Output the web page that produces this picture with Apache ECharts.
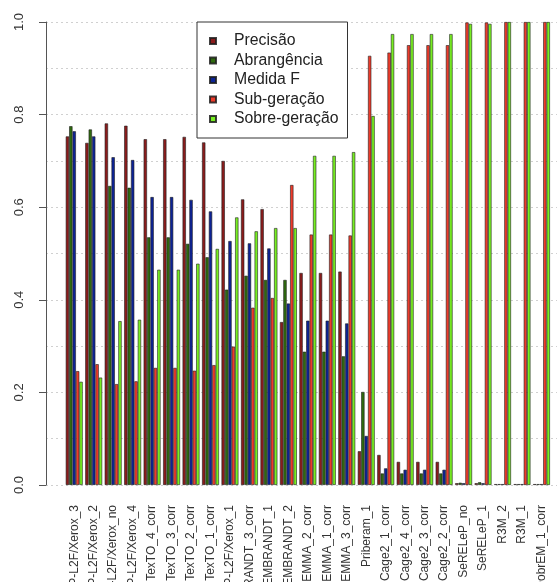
<!DOCTYPE html>
<html>
<head>
<meta charset="utf-8">
<script src="https://cdn.jsdelivr.net/npm/echarts@6/dist/echarts.min.js"></script>
<style>
html,body{margin:0;padding:0;background:#fff;}
#chart{width:559px;height:582px;}
</style>
</head>
<body>
<div id="chart"></div>
<script>
var categories = ['XIP-L2F/Xerox_3','XIP-L2F/Xerox_2','XIP-L2F/Xerox_no','XIP-L2F/Xerox_4','TexTO_4_corr','TexTO_3_corr','TexTO_2_corr','TexTO_1_corr','XIP-L2F/Xerox_1','REMBRANDT_3_corr','REMBRANDT_1','REMBRANDT_2','REMMA_2_corr','REMMA_1_corr','REMMA_3_corr','Priberam_1','Cage2_1_corr','Cage2_4_corr','Cage2_3_corr','Cage2_2_corr','SeRELeP_no','SeRELeP_1','R3M_2','R3M_1','DobrEM_1_corr'];
var seriesNames = ['Precisão','Abrangência','Medida F','Sub-geração','Sobre-geração'];
var precisao    = [0.753,0.739,0.781,0.776,0.747,0.747,0.752,0.740,0.700,0.617,0.596,0.352,0.458,0.458,0.461,0.073,0.065,0.050,0.050,0.050,0.004,0.004,0.002,0.002,0.002];
var abrangencia = [0.775,0.768,0.646,0.642,0.535,0.535,0.521,0.492,0.422,0.452,0.443,0.443,0.288,0.288,0.278,0.201,0.025,0.025,0.025,0.025,0.005,0.006,0.002,0.002,0.002];
var medidaF     = [0.764,0.753,0.708,0.702,0.622,0.622,0.616,0.591,0.527,0.522,0.511,0.392,0.355,0.355,0.349,0.106,0.036,0.033,0.033,0.033,0.004,0.004,0.002,0.002,0.002];
var subGeracao  = [0.246,0.261,0.218,0.224,0.253,0.253,0.247,0.259,0.299,0.383,0.404,0.648,0.541,0.541,0.539,0.927,0.934,0.950,0.950,0.950,0.999,0.999,1.000,1.000,1.000];
var sobreGeracao= [0.223,0.232,0.354,0.357,0.465,0.465,0.478,0.510,0.578,0.548,0.555,0.555,0.711,0.711,0.719,0.797,0.974,0.974,0.974,0.974,0.996,0.996,1.000,1.000,1.000];
var yTicks = [0, 0.2, 0.4, 0.6, 0.8, 1.0];
var colors = ['#8B1C1C','#2F6A0E','#0D2396','#EE3B2B','#77EE22'];

var font = 'Liberation Sans, Arial, sans-serif';
var allData = [precisao, abrangencia, medidaF, subGeracao, sobreGeracao];

var chart = echarts.init(document.getElementById('chart'), null, {renderer:'canvas'});
var series = seriesNames.map(function(n, i){
  return {
    name: n, type: 'bar', xAxisIndex: 1, yAxisIndex: 1,
    data: allData[i],
    barGap: '0%', barCategoryGap: '12.7%',
    itemStyle: {color: colors[i], borderColor: 'rgba(30,30,30,0.85)', borderWidth: 0.7},
    emphasis: {disabled: true},
    animation: false
  };
});
series.push({type:'line', xAxisIndex:0, yAxisIndex:0, data:[], silent:true});

chart.setOption({
  animation: false,
  backgroundColor: '#fff',
  color: colors,
  legend: {
    data: seriesNames,
    orient: 'vertical',
    left: 197, top: 22,
    icon: 'rect',
    itemWidth: 6, itemHeight: 6,
    itemGap: 3.5,
    padding: [11, 9, 11, 12],
    borderColor: '#333', borderWidth: 1,
    backgroundColor: '#fff',
    selectedMode: false,
    textStyle: {fontFamily: font, fontSize: 15.8, color: '#222', lineHeight: 16, padding: [0,0,0,13]}
  },
  grid: [
    {left: 46, right: 2, top: 22, bottom: 97, outerBoundsMode: 'none', containLabel: false},
    {left: 64.5, right: 7.8, top: 22, bottom: 97, outerBoundsMode: 'none', containLabel: false}
  ],
  xAxis: [
    {gridIndex: 0, type: 'value', min: 0, max: 1, show: false},
    {gridIndex: 1, type: 'category', data: categories,
     axisLine: {show: false}, axisTick: {show: false},
     axisLabel: {rotate: 90, interval: 0, margin: 20, fontFamily: font, fontSize: 12, color: '#333'}}
  ],
  yAxis: [
    {gridIndex: 0, type: 'value', min: 0, max: 1, interval: 0.2,
     axisLine: {show: true, lineStyle: {color: '#555', width: 1}},
     axisTick: {show: true, length: 7, lineStyle: {color: '#555'}},
     axisLabel: {rotate: 90, margin: 20, fontFamily: font, fontSize: 13, color: '#333',
       formatter: function(v){ return v.toFixed(1); }},
     splitLine: {show: true, lineStyle: {color: '#d0d0d0', type: [2,3], width: 1}},
     minorTick: {show: false, splitNumber: 2},
     minorSplitLine: {show: true, lineStyle: {color: '#d0d0d0', type: [2,3], width: 1}}
    },
    {gridIndex: 1, type: 'value', min: 0, max: 1, show: false, splitLine: {show: false}}
  ],
  series: series
});
</script>
</body>
</html>
